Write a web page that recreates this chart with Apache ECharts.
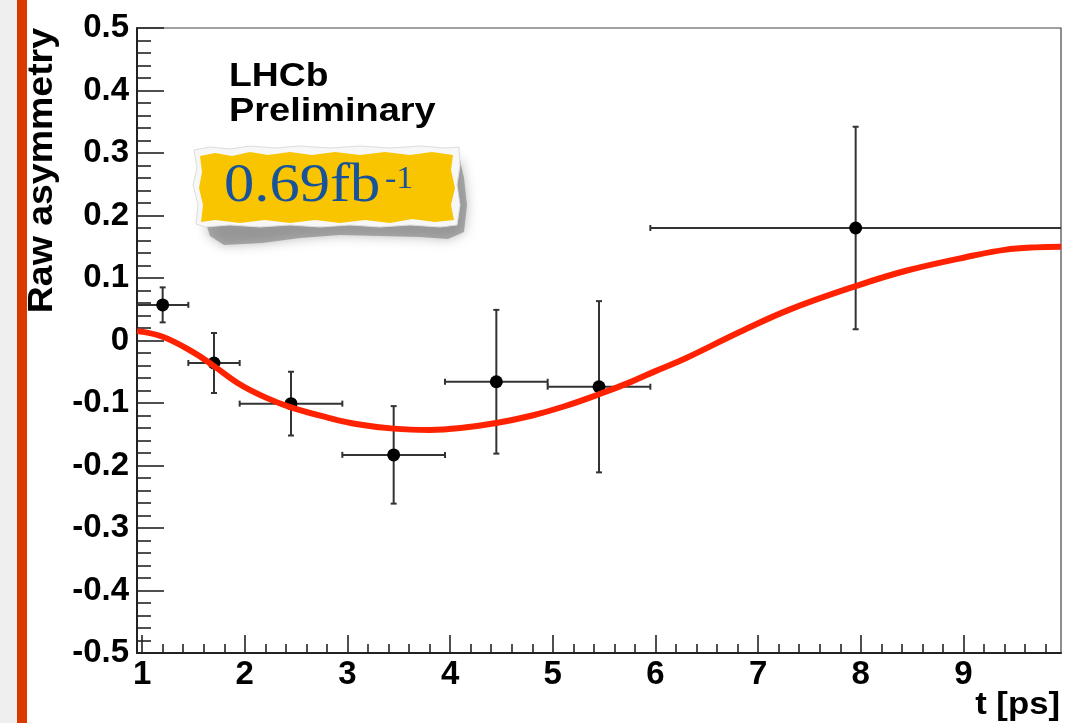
<!DOCTYPE html>
<html>
<head>
<meta charset="utf-8">
<script src="https://cdn.jsdelivr.net/npm/echarts@6/dist/echarts.min.js"></script>
<style>
  html, body { margin: 0; padding: 0; background: #ffffff; }
  #chart { width: 1066px; height: 723px; }
</style>
</head>
<body>
<div id="chart"></div>
<script>
// Binned raw asymmetry versus decay time
const binCentre    = [1.2, 1.7, 2.45, 3.45, 4.45, 5.45, 7.95];
const binLow       = [0.95, 1.45, 1.95, 2.95, 3.95, 4.95, 5.95];
const binHigh      = [1.45, 1.95, 2.95, 3.95, 4.95, 5.95, 10.0];
const asymmetry    = [0.057, -0.036, -0.101, -0.183, -0.066, -0.074, 0.180];
const asymmetryErr = [0.028, 0.048, 0.051, 0.078, 0.115, 0.137, 0.162];

// Fitted oscillation curve, sampled along t
const fitT = [0.95, 1.2, 1.5, 1.7, 1.95, 2.2, 2.45, 2.8, 3.1, 3.45, 3.8, 4.1, 4.45, 4.8, 5.1, 5.45, 5.75, 6.0, 6.3, 6.8, 7.3, 7.95, 8.45, 9.1, 9.4, 9.7, 9.95];
const fitA = [0.015, 0.006, -0.019, -0.041, -0.070, -0.091, -0.107, -0.123, -0.134, -0.141, -0.143, -0.140, -0.132, -0.120, -0.106, -0.086, -0.067, -0.049, -0.028, 0.012, 0.049, 0.087, 0.112, 0.136, 0.145, 0.149, 0.150];

// Axis ticks
const xTicks = [1, 2, 3, 4, 5, 6, 7, 8, 9];
const yTicks = [-0.5, -0.4, -0.3, -0.2, -0.1, 0, 0.1, 0.2, 0.3, 0.4, 0.5];

const X_MIN = 0.95, X_MAX = 9.95;
const Y_MIN = -0.5, Y_MAX = 0.5;

// minor ticks every 0.2 between the integer ticks
const xMinorTicks = [];
xTicks.forEach(t => {
  for (let k = 1; k < 5; k++) {
    const v = Math.round((t + 0.2 * k) * 10) / 10;
    if (v < X_MAX) xMinorTicks.push(v);
  }
});

const AXIS_COLOR = '#222222';
const LABEL_FONT = { fontFamily: 'Liberation Sans, Arial, Helvetica, sans-serif', fontWeight: 'bold', fontSize: 33, color: '#000' };

function renderErrorBar(params, api) {
  const t = api.value(0), a = api.value(1), lo = api.value(2), hi = api.value(3), e = api.value(4);
  const pc = api.coord([t, a]);
  const pl = api.coord([Math.max(lo, X_MIN), a]);
  const ph = api.coord([Math.min(hi, X_MAX), a]);
  const pt = api.coord([t, a + e]);
  const pb = api.coord([t, a - e]);
  const cap = 3;
  const ls = { stroke: '#333333', lineWidth: 2 };
  const seg = (x1, y1, x2, y2) => ({ type: 'line', shape: { x1, y1, x2, y2 }, style: ls });
  const children = [
    seg(pl[0], pl[1], ph[0], ph[1]),
    seg(pt[0], pt[1], pb[0], pb[1]),
    seg(pt[0] - cap, pt[1], pt[0] + cap, pt[1]),
    seg(pb[0] - cap, pb[1], pb[0] + cap, pb[1])
  ];
  if (lo > X_MIN) children.push(seg(pl[0], pl[1] - cap, pl[0], pl[1] + cap));
  if (hi < X_MAX) children.push(seg(ph[0], ph[1] - cap, ph[0], ph[1] + cap));
  children.push({ type: 'circle', shape: { cx: pc[0], cy: pc[1], r: 6.5 }, style: { fill: '#000000' } });
  return { type: 'group', children };
}

const chart = echarts.init(document.getElementById('chart'), null, { renderer: 'canvas' });

const option = {
  backgroundColor: '#ffffff',
  animation: false,
  grid: {
    left: 137, top: 28, right: 5, bottom: 70,
    show: true, borderColor: '#444444', borderWidth: 1.2, backgroundColor: 'transparent',
    containLabel: false, outerBoundsMode: 'none'
  },
  xAxis: [
    {
      type: 'value', min: X_MIN, max: X_MAX, position: 'bottom',
      axisLine: { show: true, onZero: false, lineStyle: { color: AXIS_COLOR, width: 2 } },
      axisTick: { show: true, inside: true, length: 18, customValues: xTicks, lineStyle: { color: AXIS_COLOR, width: 1.6 } },
      axisLabel: Object.assign({ show: true, margin: 5, customValues: xTicks, formatter: v => String(v) }, LABEL_FONT),
      splitLine: { show: false }
    },
    {
      type: 'value', min: X_MIN, max: X_MAX, position: 'bottom', gridIndex: 0,
      axisLine: { show: false, onZero: false },
      axisTick: { show: true, inside: true, length: 9, customValues: xMinorTicks, lineStyle: { color: AXIS_COLOR, width: 1.6 } },
      axisLabel: { show: false },
      splitLine: { show: false }
    }
  ],
  yAxis: {
    type: 'value', min: Y_MIN, max: Y_MAX, interval: 0.1,
    axisLine: { show: true, onZero: false, lineStyle: { color: AXIS_COLOR, width: 2 } },
    axisTick: { show: true, inside: true, length: 27, lineStyle: { color: AXIS_COLOR, width: 1.6 } },
    minorTick: { show: true, splitNumber: 5, length: 14, lineStyle: { color: AXIS_COLOR, width: 1.6 } },
    axisLabel: Object.assign({ show: true, margin: 8, formatter: v => String(Math.round(v * 10) / 10) }, LABEL_FONT),
    splitLine: { show: false },
    minorSplitLine: { show: false }
  },
  series: [
    {
      name: 'Data',
      type: 'custom',
      xAxisIndex: 0,
      renderItem: renderErrorBar,
      clip: true,
      encode: { x: 0, y: 1 },
      data: binCentre.map((t, i) => [t, asymmetry[i], binLow[i], binHigh[i], asymmetryErr[i]]),
      z: 3
    },
    {
      name: 'Fit',
      type: 'line',
      xAxisIndex: 0,
      data: fitT.map((t, i) => [t, fitA[i]]),
      smooth: 0.4,
      showSymbol: false,
      symbol: 'none',
      clip: true,
      lineStyle: { color: '#ff2200', width: 6 },
      z: 5
    }
  ],
  graphic: [
    // page edge strips
    { type: 'rect', shape: { x: 0, y: 0, width: 17, height: 723 }, style: { fill: '#efefef' }, z: 0 },
    { type: 'rect', shape: { x: 17, y: 0, width: 10, height: 723 }, style: { fill: '#d93a00' }, z: 0 },

    // axis titles
    {
      type: 'text', x: 42, y: 28, rotation: Math.PI / 2, scaleX: 1.07,
      style: { text: 'Raw asymmetry', font: 'bold 35px "Liberation Sans", Arial, sans-serif', fill: '#000', align: 'right', verticalAlign: 'middle' },
      z: 10
    },
    {
      type: 'text', x: 1060, y: 705, scaleX: 1.12,
      style: { text: 't [ps]', font: 'bold 31px "Liberation Sans", Arial, sans-serif', fill: '#000', align: 'right', verticalAlign: 'middle' },
      z: 10
    },

    // experiment label
    {
      type: 'text', x: 229, y: 77, scaleX: 1.13,
      style: { text: 'LHCb', font: 'bold 33px "Liberation Sans", Arial, sans-serif', fill: '#000', align: 'left', verticalAlign: 'middle' },
      z: 10
    },
    {
      type: 'text', x: 229, y: 112, scaleX: 1.15,
      style: { text: 'Preliminary', font: 'bold 33px "Liberation Sans", Arial, sans-serif', fill: '#000', align: 'left', verticalAlign: 'middle' },
      z: 10
    },

    // luminosity tag: shadow, torn paper edge, yellow sticker
    {
      type: 'polygon', z: 10,
      shape: { points: [[205, 220], [210, 236], [224, 245], [262, 243], [300, 238], [340, 235], [380, 236], [420, 237], [448, 239], [464, 232], [467, 205], [464, 178], [460, 160], [452, 160], [452, 220]] },
      style: { fill: 'rgba(125,125,125,0.6)', shadowBlur: 12, shadowColor: 'rgba(90,90,90,0.7)' }
    },
    {
      type: 'polygon', z: 11,
      shape: { points: [[194, 150], [210, 147], [230, 149], [250, 146], [275, 148], [300, 146], [330, 148], [360, 146], [390, 148], [420, 146], [445, 148], [459, 147], [460, 165], [457, 185], [460, 205], [457, 225], [440, 227], [410, 225], [380, 227], [350, 225], [320, 227], [290, 225], [260, 227], [230, 225], [205, 227], [196, 224], [198, 205], [193, 185], [197, 168]] },
      style: { fill: '#f7f7f7', stroke: '#dddddd', lineWidth: 1 }
    },
    {
      type: 'polygon', z: 12,
      shape: { points: [[200, 156], [215, 153], [232, 156], [250, 152], [268, 155], [290, 152], [312, 155], [335, 152], [360, 155], [385, 152], [410, 155], [432, 152], [453, 155], [451, 170], [455, 188], [451, 205], [454, 220], [435, 222], [412, 219], [390, 223], [365, 220], [340, 223], [315, 220], [290, 223], [265, 220], [240, 223], [215, 220], [201, 222], [203, 205], [199, 188], [202, 172]] },
      style: { fill: '#f8c500' }
    },
    {
      type: 'text', x: 224, y: 187, scaleX: 1.1, z: 13,
      style: { text: '0.69fb', font: '55px "Liberation Serif", "Times New Roman", serif', fill: '#17529a', align: 'left', verticalAlign: 'middle' }
    },
    {
      type: 'text', x: 385, y: 180, scaleX: 1.1, z: 13,
      style: { text: '-1', font: '31px "Liberation Serif", "Times New Roman", serif', fill: '#17529a', align: 'left', verticalAlign: 'middle' }
    }
  ]
};

chart.setOption(option);
</script>
</body>
</html>
